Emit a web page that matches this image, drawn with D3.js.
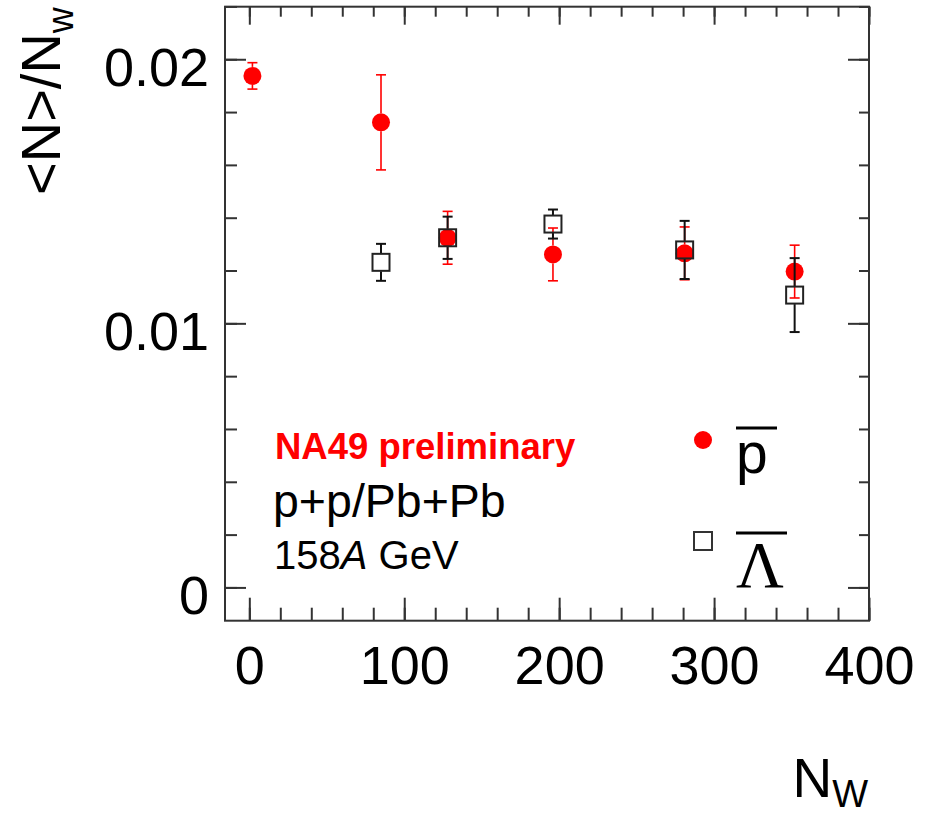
<!DOCTYPE html>
<html>
<head>
<meta charset="utf-8">
<script src="https://cdn.jsdelivr.net/npm/d3@7/dist/d3.min.js"></script>
<style>
body { margin: 0; background: #fff; }
text { font-family: "Liberation Sans", Arial, Helvetica, sans-serif; fill: #000; }
</style>
</head>
<body>
<div id="chart"></div>
<script>
// anti-proton (red circles)
var PBAR_NW = [2, 85, 128, 196, 281, 352];
var PBAR_VAL = [0.01937, 0.01761, 0.01324, 0.01261, 0.01265, 0.01196];
var PBAR_ERR = [0.0005, 0.0018, 0.0010, 0.0010, 0.0010, 0.0010];

// anti-lambda (open squares)
var LBAR_NW = [85, 128, 196, 281, 352];
var LBAR_VAL = [0.01231, 0.01324, 0.01376, 0.01278, 0.01107];
var LBAR_ERR = [0.0007, 0.0008, 0.00055, 0.0011, 0.0014];

var X_TICKS = [0, 100, 200, 300, 400];
var X_MINOR = d3.range(0, 401, 20);
var Y_TICKS = [0, 0.01, 0.02];
var Y_TICK_LABELS = ["0", "0.01", "0.02"];
var Y_MINOR = d3.range(0, 0.0221, 0.002);

var W = 930, H = 817;
var RED = "#ff0000";
var AXIS_COLOR = "#333";

drawChart();

function drawChart() {

	var svg = d3.select("#chart").append("svg")
		.attr("width", W)
		.attr("height", H);

	var x = d3.scaleLinear().domain([-15.7, 400]).range([225, 869]);
	var y = d3.scaleLinear().domain([-0.00126, 0.02199]).range([620.7, 6.7]);

	var left = x.range()[0], right = x.range()[1];
	var top = y.range()[1], bottom = y.range()[0];

	//ticks, all pointing inward
	function styleAxis(g) {
		g.select(".domain").remove();
		g.selectAll(".tick line")
			.attr("stroke", AXIS_COLOR)
			.attr("stroke-width", 2);
	}

	svg.append("g")
		.attr("transform", "translate(0," + bottom + ")")
		.call(d3.axisBottom(x).tickValues(X_MINOR).tickSize(-13).tickFormat(""))
		.call(styleAxis);

	var xAxis = svg.append("g")
		.attr("transform", "translate(0," + bottom + ")")
		.call(d3.axisBottom(x).tickValues(X_TICKS).tickSize(-23).tickFormat(d3.format("d")))
		.call(styleAxis);
	xAxis.selectAll(".tick text")
		.attr("y", 63)
		.attr("dy", null)
		.style("font-size", "54px")
		.style("font-family", "'Liberation Sans', Arial, sans-serif")
		.attr("fill", "#000");

	svg.append("g")
		.attr("transform", "translate(0," + top + ")")
		.call(d3.axisTop(x).tickValues(X_MINOR).tickSize(-10).tickFormat(""))
		.call(styleAxis);
	svg.append("g")
		.attr("transform", "translate(0," + top + ")")
		.call(d3.axisTop(x).tickValues(X_TICKS).tickSize(-18).tickFormat(""))
		.call(styleAxis);

	svg.append("g")
		.attr("transform", "translate(" + left + ",0)")
		.call(d3.axisLeft(y).tickValues(Y_MINOR).tickSize(-12).tickFormat(""))
		.call(styleAxis);

	var yAxis = svg.append("g")
		.attr("transform", "translate(" + left + ",0)")
		.call(d3.axisLeft(y).tickValues(Y_TICKS).tickSize(-21)
			.tickFormat(function(d, i) { return Y_TICK_LABELS[i]; }))
		.call(styleAxis);
	yAxis.selectAll(".tick text")
		.attr("x", -16)
		.attr("dy", null)
		.attr("y", 26)
		.style("font-size", "54px")
		.style("font-family", "'Liberation Sans', Arial, sans-serif")
		.attr("fill", "#000");

	svg.append("g")
		.attr("transform", "translate(" + right + ",0)")
		.call(d3.axisRight(y).tickValues(Y_MINOR).tickSize(-10).tickFormat(""))
		.call(styleAxis);
	svg.append("g")
		.attr("transform", "translate(" + right + ",0)")
		.call(d3.axisRight(y).tickValues(Y_TICKS).tickSize(-21).tickFormat(""))
		.call(styleAxis);

	//frame
	svg.append("rect")
		.attr("x", left)
		.attr("y", top)
		.attr("width", right - left)
		.attr("height", bottom - top)
		.attr("fill", "none")
		.attr("stroke", AXIS_COLOR)
		.attr("stroke-width", 2);

	//axis titles
	var ytitle = svg.append("text")
		.attr("transform", "translate(60,195) rotate(-90)")
		.style("font-size", "56px");
	ytitle.append("tspan").text("<N>/N");
	ytitle.append("tspan").attr("dy", 13).style("font-size", "36px").text("w");

	var xtitle = svg.append("text")
		.attr("x", 868)
		.attr("y", 797)
		.attr("text-anchor", "end")
		.style("font-size", "55px");
	xtitle.append("tspan").text("N");
	xtitle.append("tspan").attr("dy", 10).style("font-size", "38px").text("W");

	//data
	var pbar = PBAR_NW.map(function(n, i) {
		return { nw: n, val: PBAR_VAL[i], err: PBAR_ERR[i] };
	});
	var lbar = LBAR_NW.map(function(n, i) {
		return { nw: n, val: LBAR_VAL[i], err: LBAR_ERR[i] };
	});

	function drawErrors(data, color, width, half) {
		var g = svg.append("g")
			.attr("stroke", color)
			.attr("stroke-width", width);
		data.forEach(function(d) {
			var cx = x(d.nw);
			var cy = y(d.val);
			var yt = y(d.val + d.err);
			var yb = y(d.val - d.err);
			if(yt < cy - half) {
				g.append("line").attr("x1", cx).attr("x2", cx).attr("y1", yt).attr("y2", cy - half);
			}
			if(yb > cy + half) {
				g.append("line").attr("x1", cx).attr("x2", cx).attr("y1", cy + half).attr("y2", yb);
			}
			g.append("line").attr("x1", cx - 5).attr("x2", cx + 5).attr("y1", yt).attr("y2", yt);
			g.append("line").attr("x1", cx - 5).attr("x2", cx + 5).attr("y1", yb).attr("y2", yb);
		});
	}

	drawErrors(pbar, RED, 1.6, 9);

	svg.append("g")
		.selectAll("circle")
		.data(pbar)
		.enter().append("circle")
		.attr("cx", function(d) { return x(d.nw); })
		.attr("cy", function(d) { return y(d.val); })
		.attr("r", 9)
		.attr("fill", RED);

	drawErrors(lbar, "#111", 2, 9);

	svg.append("g")
		.selectAll("rect")
		.data(lbar)
		.enter().append("rect")
		.attr("x", function(d) { return x(d.nw) - 8.5; })
		.attr("y", function(d) { return y(d.val) - 8.5; })
		.attr("width", 17)
		.attr("height", 17)
		.attr("fill", "none")
		.attr("stroke", "#222")
		.attr("stroke-width", 2);

	//text labels
	svg.append("text")
		.attr("x", 275)
		.attr("y", 459)
		.style("font-size", "36.5px")
		.style("font-weight", "bold")
		.style("fill", RED)
		.text("NA49 preliminary");

	svg.append("text")
		.attr("x", 273)
		.attr("y", 517)
		.style("font-size", "46.5px")
		.text("p+p/Pb+Pb");

	var energy = svg.append("text")
		.attr("x", 274)
		.attr("y", 569)
		.style("font-size", "40px");
	energy.append("tspan").text("158");
	energy.append("tspan").style("font-style", "italic").text("A");
	energy.append("tspan").text(" GeV");

	//legend
	svg.append("circle")
		.attr("cx", 703)
		.attr("cy", 440)
		.attr("r", 9)
		.attr("fill", RED);
	svg.append("text")
		.attr("x", 736)
		.attr("y", 473)
		.style("font-size", "57px")
		.text("p");
	svg.append("line")
		.attr("x1", 736).attr("x2", 777)
		.attr("y1", 428).attr("y2", 428)
		.attr("stroke", "#000")
		.attr("stroke-width", 3);

	svg.append("rect")
		.attr("x", 694)
		.attr("y", 532)
		.attr("width", 18)
		.attr("height", 18)
		.attr("fill", "none")
		.attr("stroke", "#333")
		.attr("stroke-width", 2);
	svg.append("text")
		.attr("x", 736)
		.attr("y", 587)
		.style("font-size", "66px")
		.style("font-family", "'Liberation Serif', 'Times New Roman', serif")
		.text("\u039B");
	svg.append("line")
		.attr("x1", 736).attr("x2", 787)
		.attr("y1", 533).attr("y2", 533)
		.attr("stroke", "#000")
		.attr("stroke-width", 3);

}
</script>
</body>
</html>
